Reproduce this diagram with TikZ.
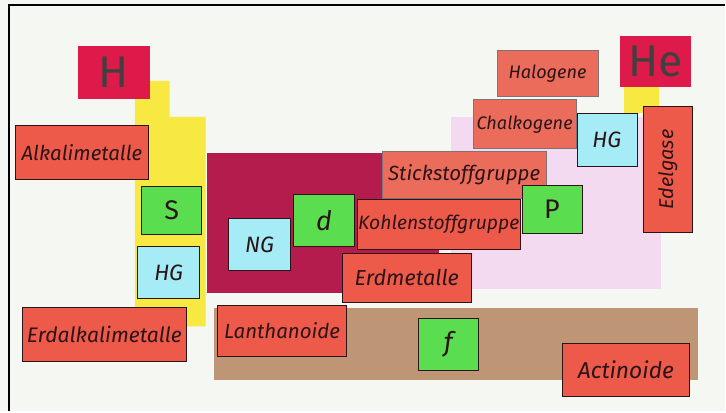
\documentclass[tikz,border=0pt]{standalone}
\usepackage{fontspec}
\newfontfamily\handfont{Fira Sans}
\usetikzlibrary{positioning,fit}
\definecolor{mybg}{RGB}{245,247,242}
\definecolor{mycard}{RGB}{238,90,74}
\definecolor{mycardlight}{RGB}{236,108,92}
\definecolor{mycrimson}{RGB}{222,26,74}
\definecolor{myberry}{RGB}{180,28,78}
\definecolor{mygreen}{RGB}{90,222,80}
\definecolor{mycyan}{RGB}{165,236,246}
\definecolor{myyellow}{RGB}{248,232,66}
\definecolor{mylilac}{RGB}{243,218,240}
\definecolor{mybrown}{RGB}{190,150,118}
\definecolor{myink}{RGB}{42,20,24}

\begin{document}
\begin{tikzpicture}[x=0.03cm,y=-0.03cm,
  fsize/.style={font=\handfont\itshape\fontsize{#1}{#1}\selectfont},
  every label/.style={text=myink,inner sep=0pt,fsize=16},
  card/.style={draw=myink,line width=0.6pt,inner sep=0pt},
  redcard/.style={card,fill=mycard},
  palecard/.style={card,fill=mycardlight,draw=myink!60},
  elemcard/.style={card,fill=mycrimson,draw=none},
  blockcard/.style={card,fill=mygreen},
  groupcard/.style={card,fill=mycyan},
  elem/.style={text=black!75,font=\handfont\fontsize{38}{38}\selectfont},
  blk/.style={fsize=23},
  grp/.style={fsize=19}]

  % paper and frame
  \fill[mybg] (0,0) rectangle (726,412);
  \draw[black,line width=2.2pt] (9,412) -- (9,5) -- (726,5);

  % coloured blocks behind the cards
  \fill[myyellow] (135,81) -- (170,81) -- (170,117) -- (206,117) -- (206,327) -- (135,327) -- cycle;
  \fill[myyellow] (625,70) rectangle (660,113);
  \fill[mylilac] (452,117) rectangle (662,290);
  \fill[myberry] (207,153) rectangle (440,294);
  \fill[mybrown] (214,309) rectangle (699,381);

  % s block
  \node[elemcard,fit={(78,46) (150,99)},label={[elem]center:H}] (h) {};
  \node[redcard,fit={(15,126) (149,180)},label={[fsize=17.5]center:Alkalimetalle}] (alkali) {};
  \node[blockcard,fit={(142,187) (202,235)},label={[blk,font=\handfont\fontsize{23}{23}\selectfont]center:S}] (s) {};
  \node[groupcard,fit={(138,247) (200,299)},label={[grp]center:HG}] (hgs) {};
  \node[redcard,fit={(22,308) (187,362)},label={[fsize=18]center:Erdalkalimetalle}] (erdalkali) {};

  % d block
  \node[groupcard,fit={(229,219) (291,271)},label={[grp]center:NG}] (ng) {};
  \node[blockcard,fit={(294,195) (355,247)},label={[blk]center:d}] (d) {};

  % p block
  \node[palecard,fit={(383,152) (547,199)},label={[fsize=17.5]center:Stickstoffgruppe}] (stick) {};
  \node[redcard,fit={(358,200) (521,250)},label={[fsize=16.5]center:Kohlenstoffgruppe}] (kohle) {};
  \node[redcard,fit={(343,254) (472,303)},label={[fsize=18.5]center:Erdmetalle}] (erdm) {};
  \node[blockcard,fit={(523,186) (583,234)},label={[blk,font=\handfont\fontsize{23}{23}\selectfont]center:P}] (p) {};
  \node[palecard,fit={(498,50) (599,97)},label={[fsize=15.5]center:Halogene}] (halo) {};
  \node[palecard,fit={(474,100) (577,149)},label={[fsize=15.5]center:Chalkogene}] (chalko) {};
  \node[groupcard,fit={(578,114) (638,167)},label={[grp]center:HG}] (hgp) {};
  \node[elemcard,fit={(621,36) (692,87)},label={[elem]center:He}] (he) {};
  \node[redcard,fit={(644,107) (694,233)},label={[fsize=17,rotate=90]center:Edelgase}] (edel) {};

  % f block
  \node[redcard,fit={(218,306) (347,357)},label={[fsize=17.5]center:Lanthanoide}] (lantha) {};
  \node[blockcard,fit={(419,319) (479,371)},label={[blk]center:f}] (f) {};
  \node[redcard,fit={(563,344) (691,397)},label={[fsize=19.5]center:Actinoide}] (acti) {};
\end{tikzpicture}
\end{document}
